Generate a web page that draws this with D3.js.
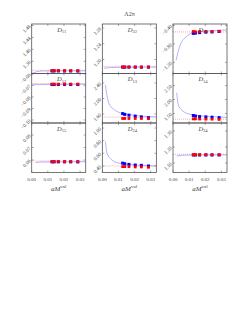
<!DOCTYPE html>
<html>
<head>
<meta charset="utf-8">
<script src="https://cdn.jsdelivr.net/npm/d3@7"></script>
<style>
  body { margin: 0; background: #fff; }
  text { font-family: "Liberation Serif", "DejaVu Serif", serif; fill: #444; }
</style>
</head>
<body>
<svg id="chart" width="241" height="312"></svg>
<script>
// panel order: row by row, 3 columns
var panelLabels = ["11", "22", "33", "12", "13", "14", "15", "24", "34"];
var aMval = [0.0126, 0.0139, 0.0165, 0.0204, 0.0242, 0.0286];
var xTicks = [0, 0.01, 0.02, 0.03];

var yDomains = [
  [1.319, 1.485], [1.1644, 1.290], [-1.443, -0.367],
  [-0.1026, -0.0596], [1.368, 2.645], [1.162, 2.93],
  [0.0500, 0.0896], [0.297, 1.079], [1.0406, 1.35]
];
var yTicks = [
  [1.36, 1.40, 1.44, 1.48], [1.20, 1.24, 1.28], [-1.20, -0.80, -0.40],
  [-0.10, -0.09, -0.08, -0.07, -0.06], [1.60, 2.00, 2.40], [1.50, 2.00, 2.50],
  [0.06, 0.07, 0.08], [0.40, 0.60, 0.80, 1.00], [1.10, 1.20, 1.30]
];

var redPoints = [
  [1.329, 1.329, 1.329, 1.3285, 1.3285, 1.328],
  [1.181, 1.181, 1.181, 1.181, 1.1808, 1.1808],
  [-0.53, -0.535, -0.53, -0.53, -0.53, -0.525],
  [-0.0688, -0.0688, -0.0688, -0.0688, -0.0688, -0.0688],
  [1.485, 1.485, 1.485, 1.485, 1.485, 1.48],
  [1.31, 1.31, 1.305, 1.30, 1.30, 1.29],
  [0.0588, 0.0588, 0.0588, 0.0587, 0.0587, 0.0586],
  [0.39, 0.39, 0.39, 0.385, 0.385, 0.38],
  [1.152, 1.152, 1.152, 1.152, 1.152, 1.152]
];
var bluePoints = [
  [1.3275, 1.3275, 1.3275, 1.3275, 1.3275, 1.3275],
  [1.1805, 1.1805, 1.1805, 1.1805, 1.1805, 1.1805],
  [-0.57, -0.565, -0.555, -0.545, -0.54, -0.53],
  [-0.0692, -0.0692, -0.0692, -0.0692, -0.0692, -0.0692],
  [1.61, 1.59, 1.57, 1.545, 1.525, 1.505],
  [1.43, 1.41, 1.39, 1.38, 1.37, 1.355],
  [0.0585, 0.0585, 0.0585, 0.0585, 0.0585, 0.0585],
  [0.445, 0.435, 0.425, 0.415, 0.41, 0.40],
  [1.150, 1.150, 1.150, 1.150, 1.150, 1.150]
];
// extrapolated (red dotted) level per panel
var redLevels = [1.330, 1.1826, -0.54, -0.0683, 1.52, 1.30, 0.0592, 0.40, 1.154];

// fit curves, [aM, value]
var fitCurves = [
  [[0.001, 1.321], [0.003, 1.325], [0.005, 1.327], [0.01, 1.328], [0.0335, 1.328]],
  [[0.001, 1.178], [0.005, 1.1795], [0.012, 1.1802], [0.0335, 1.1805]],
  [[0.0019, -1.154], [0.0043, -0.84], [0.0085, -0.634], [0.0126, -0.556], [0.0168, -0.535], [0.0335, -0.498]],
  [[0.0005, -0.0693], [0.0335, -0.069]],
  [[0.0019, 2.348], [0.0028, 2.09], [0.004, 1.88], [0.0068, 1.73], [0.0112, 1.63], [0.0174, 1.58], [0.0335, 1.525]],
  [[0.0023, 2.244], [0.0033, 1.805], [0.0054, 1.627], [0.0085, 1.51], [0.0126, 1.447], [0.0335, 1.365]],
  [[0.0025, 0.0579], [0.006, 0.0584], [0.0335, 0.0586]],
  [[0.0019, 0.784], [0.0029, 0.60], [0.006, 0.494], [0.0112, 0.44], [0.0335, 0.40]],
  [[0.0023, 1.144], [0.006, 1.148], [0.0106, 1.15], [0.0335, 1.151]]
];

var svg = d3.select("#chart")
  , left0 = 31.7
  , colStep = 70.65
  , top0 = 24
  , w = 54
  , h = 49.5
  , fmt = d3.format(".2f");

svg.append("text")
  .attr("x", 129.5)
  .attr("y", 16)
  .attr("text-anchor", "middle")
  .style("font-size", "6px")
  .text("Λ2π");

panelLabels.forEach(function (lab, i) {
  var col = i % 3
    , row = Math.floor(i / 3)
    , g = svg.append("g").attr("transform", "translate(" + (left0 + col * colStep) + "," + (top0 + row * h) + ")")
    , x = d3.scaleLinear().domain([0, 0.0335]).range([0, w])
    , y = d3.scaleLinear().domain(yDomains[i]).range([h, 0]);

  g.append("clipPath").attr("id", "clip" + i)
    .append("rect").attr("width", w).attr("height", h);

  var plot = g.append("g").attr("clip-path", "url(#clip" + i + ")");

  plot.append("line")
    .attr("x1", 0).attr("x2", w)
    .attr("y1", y(redLevels[i])).attr("y2", y(redLevels[i]))
    .attr("stroke", "#ff7070")
    .attr("stroke-width", 0.6)
    .attr("stroke-dasharray", "1,1");

  plot.append("path")
    .datum(fitCurves[i])
    .attr("fill", "none")
    .attr("stroke", "#7f7fff")
    .attr("stroke-width", 0.6)
    .attr("d", d3.line()
      .x(function (d) { return x(d[0]); })
      .y(function (d) { return y(d[1]); })
      .curve(d3.curveMonotoneX));

  plot.selectAll(".blue").data(bluePoints[i]).enter().append("rect")
    .attr("x", function (d, j) { return x(aMval[j]) - 1.5; })
    .attr("y", function (d) { return y(d) - 1.5; })
    .attr("width", 3).attr("height", 3)
    .attr("fill", "#0000ff");

  plot.selectAll(".red").data(redPoints[i]).enter().append("rect")
    .attr("x", function (d, j) { return x(aMval[j]) - 1.4; })
    .attr("y", function (d) { return y(d) - 1.4; })
    .attr("width", 2.8).attr("height", 2.8)
    .attr("fill", "#ff0000");

  // frame + inward ticks on all sides
  g.append("rect")
    .attr("width", w).attr("height", h)
    .attr("fill", "none")
    .attr("stroke", "#555")
    .attr("stroke-width", 0.8);

  yTicks[i].forEach(function (t) {
    var yy = y(t);
    g.append("line").attr("x1", 0).attr("x2", 2).attr("y1", yy).attr("y2", yy)
      .attr("stroke", "#555").attr("stroke-width", 0.5);
    g.append("line").attr("x1", w - 2).attr("x2", w).attr("y1", yy).attr("y2", yy)
      .attr("stroke", "#555").attr("stroke-width", 0.5);
    g.append("text")
      .attr("transform", "translate(-2," + yy + ") rotate(-45)")
      .attr("text-anchor", "end")
      .attr("dy", "0.35em")
      .style("font-size", "5px")
      .text(fmt(t));
  });

  xTicks.forEach(function (t) {
    var xx = x(t);
    g.append("line").attr("x1", xx).attr("x2", xx).attr("y1", h).attr("y2", h - 2)
      .attr("stroke", "#555").attr("stroke-width", 0.5);
    g.append("line").attr("x1", xx).attr("x2", xx).attr("y1", 0).attr("y2", 2)
      .attr("stroke", "#555").attr("stroke-width", 0.5);
    if (row === 2) {
      g.append("text")
        .attr("x", xx).attr("y", h + 8.5)
        .attr("text-anchor", "middle")
        .style("font-size", "5px")
        .text(fmt(t));
    }
  });

  var title = g.append("text")
    .attr("x", w / 2 + 3).attr("y", 7.5)
    .attr("text-anchor", "middle")
    .style("font-size", "6.5px");
  title.append("tspan").style("font-style", "italic").text("D");
  title.append("tspan").attr("dy", 1.5).style("font-size", "4.5px").text(lab);

  if (row === 2) {
    var xt = g.append("text")
      .attr("x", w / 2).attr("y", h + 18.5)
      .attr("text-anchor", "middle")
      .style("font-size", "7px");
    xt.append("tspan").style("font-style", "italic").text("aM");
    xt.append("tspan").attr("dy", -3).style("font-size", "5px").text("val");
  }
});
</script>
</body>
</html>
